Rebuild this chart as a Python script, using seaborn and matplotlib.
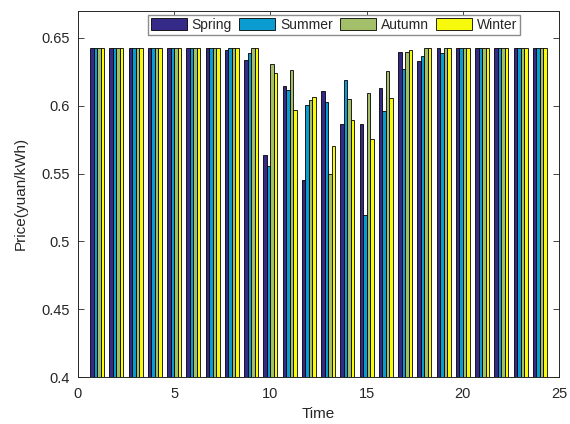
import numpy as np
import pandas as pd
import matplotlib
matplotlib.use("Agg")
import matplotlib.pyplot as plt
import seaborn as sns

hours = list(range(1, 25))
seasons = ["Spring", "Summer", "Autumn", "Winter"]
colors = ["#352A87", "#0A9BD0", "#A3BF6A", "#F8FA0D"]

P = 0.6424
spring = [P, P, P, P, P, P, P, 0.6407, 0.6333, 0.5634, 0.6141, 0.5450,
          0.6105, 0.5867, 0.5862, 0.6130, 0.6391, 0.6325, P, P, P, P, P, P]
summer = [P, P, P, P, P, P, P, P, 0.6390, 0.5553, 0.6117, 0.6002,
          0.6025, 0.6190, 0.5193, 0.5960, 0.6271, 0.6364, 0.6390, P, P, P, P, P]
autumn = [P, P, P, P, P, P, P, P, P, 0.6307, 0.6264, 0.6043,
          0.5494, 0.6047, 0.6092, 0.6254, 0.6391, P, P, P, P, P, P, P]
winter = [P, P, P, P, P, P, P, P, P, 0.6242, 0.5965, 0.6067,
          0.5703, 0.5891, 0.5757, 0.6058, 0.6411, P, P, P, P, P, P, P]

series = {"Spring": spring, "Summer": summer, "Autumn": autumn, "Winter": winter}
df = pd.DataFrame(
    [(h, s, v) for s in seasons for h, v in zip(hours, series[s])],
    columns=["Time", "Season", "Price"],
)

sns.set_style("white")
plt.rcParams["font.family"] = ["Liberation Sans", "DejaVu Sans"]

fig = plt.figure(figsize=(5.7, 4.24), dpi=100)
ax = fig.add_axes([0.1368, 0.1101, 0.8439, 0.8651])

sns.barplot(data=df, x="Time", y="Price", hue="Season", hue_order=seasons,
            palette=colors, native_scale=True, width=0.727, gap=0,
            errorbar=None, edgecolor="black", linewidth=0.6, ax=ax,
            saturation=1)

ax.set_xlim(0, 25)
ax.set_ylim(0.4, 0.67)
ax.set_xticks([0, 5, 10, 15, 20, 25])
ax.set_xticklabels(["0", "5", "10", "15", "20", "25"])
ax.set_yticks([0.4, 0.45, 0.5, 0.55, 0.6, 0.65])
ax.set_yticklabels(["0.4", "0.45", "0.5", "0.55", "0.6", "0.65"])
ax.tick_params(direction="in", length=4, width=0.6, colors="#262626",
               labelsize=10.5, top=True, right=True, bottom=True, left=True,
               labelcolor="#262626")
ax.tick_params(axis="x", pad=7)
ax.tick_params(axis="y", pad=6)
for sp in ax.spines.values():
    sp.set_visible(True)
    sp.set_color("#262626")
    sp.set_linewidth(0.7)

ax.set_xlabel("Time", fontsize=11, color="#262626", labelpad=4)
ax.set_ylabel("Price(yuan/kWh)", fontsize=11, color="#262626")
ax.yaxis.set_label_coords(-0.104, 0.5)

handles, labels = ax.get_legend_handles_labels()
ax.legend(handles, labels, loc="upper center", bbox_to_anchor=(0.532, 0.995),
          ncol=4, frameon=True, fancybox=False, edgecolor="#8c8c8c",
          framealpha=1, fontsize=10, handlelength=2.6, handleheight=1.0,
          handletextpad=0.35, columnspacing=0.5, borderpad=0.2,
          borderaxespad=0.2)

fig.savefig("out.png", dpi=100)
